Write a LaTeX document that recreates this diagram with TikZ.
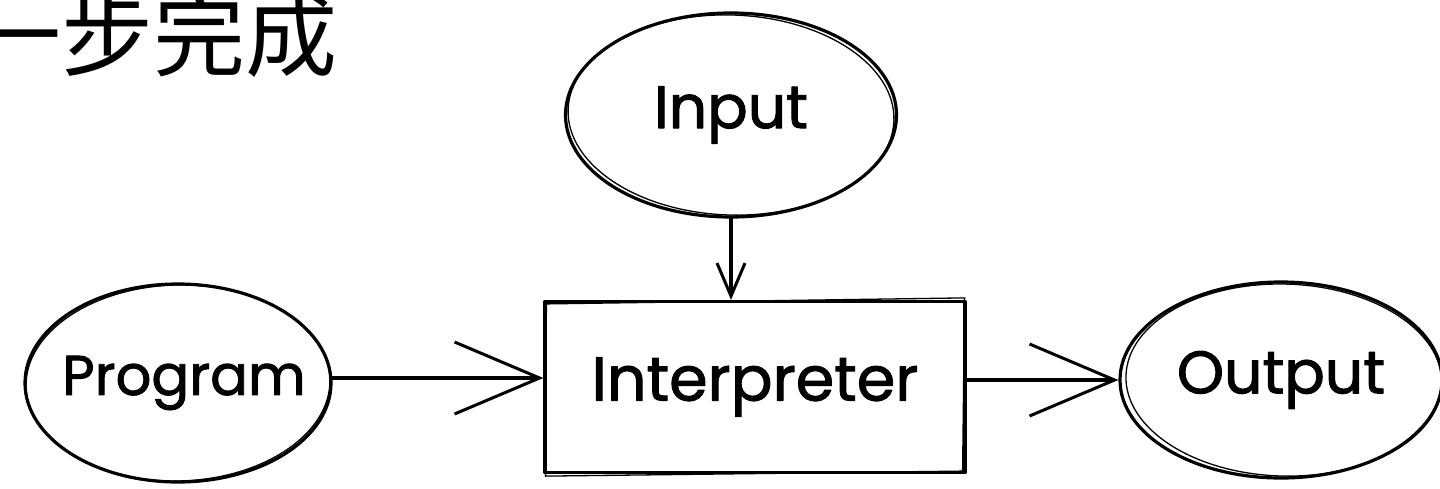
\documentclass[tikz,border=0pt]{standalone}
\usepackage{fontspec}
\setmainfont{Poppins}
\newfontfamily\hand{Poppins}[FakeBold=1.6]
\newfontfamily\cjk{Noto Sans CJK SC}
\usetikzlibrary{arrows.meta,shapes.geometric,calc}

\tikzset{
  ink/.style={line width=3.2pt, draw=black, line join=round, line cap=round},
  inkthin/.style={line width=1.3pt, draw=black, line cap=round},
  bubble/.style={ellipse, ink, inner sep=0pt, font=\hand\fontsize{60}{66}\selectfont},
  box/.style={rectangle, ink, inner sep=0pt, font=\hand\fontsize{62}{66}\selectfont},
  flow/.style={ink, -{Straight Barb[length=85pt, width=72pt, line width=3pt]}},
  flowsmall/.style={ink, -{Straight Barb[length=33pt, width=28pt, line width=3pt]}},
}

\begin{document}
\begin{tikzpicture}[x=1pt, y=-1pt]
  \useasboundingbox (0,0) rectangle (1440,488);
  \clip (0,0) rectangle (1440,488);

  % heading
  \node[anchor=base west, inner sep=0pt, font=\cjk\fontsize{92}{92}\selectfont]
    (title) at (-31,69) {一步完成};

  % nodes (the label box is kept narrow so the ellipse keeps its set size)
  \node[bubble, minimum width=331pt, minimum height=204pt] (inp) at (731,115) {Input};
  \node[bubble, minimum width=306pt, minimum height=198pt, font=\hand\fontsize{56}{60}\selectfont]
    (prog) at (178,383) {\makebox[180pt]{\hspace*{12pt}Program}};
  \node[bubble, minimum width=322pt, minimum height=196pt] (out) at (1281,380) {Output};
  \node[box, minimum width=420pt, minimum height=171pt] (interp) at (755,387) {Interpreter};

  % second pencil strokes
  \draw[inkthin, rotate around={-2:(inp.center)}] (inp.center) ellipse [x radius=163pt, y radius=100pt];
  \draw[inkthin, rotate around={1.5:(prog.center)}] (prog.center) ellipse [x radius=152pt, y radius=98pt];
  \draw[inkthin, rotate around={-1.5:(out.center)}] ($(out.center)+(3,0)$) ellipse [x radius=158pt, y radius=96pt];
  \draw[inkthin] ([shift={(3,4)}]interp.north west) -- ([shift={(-2,-2)}]interp.north east)
                 -- ([shift={(-4,-3)}]interp.south east) -- ([shift={(2,2)}]interp.south west) -- cycle;

  % connectors
  \draw[flowsmall] (inp.south) -- (inp.south |- interp.north);
  \draw[flow] ([yshift=5pt]prog.east) -- ([yshift=5pt]interp.west |- prog.east);
  \draw[flow] (interp.east |- out.west) -- (out.west);
\end{tikzpicture}
\end{document}
